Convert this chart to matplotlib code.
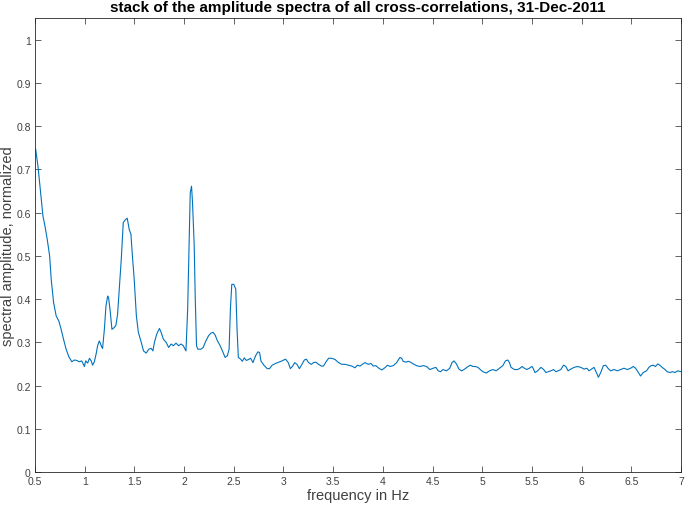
import matplotlib
matplotlib.use('Agg')
import matplotlib.pyplot as plt
from matplotlib.ticker import FuncFormatter, MultipleLocator

# stacked amplitude spectrum
freq = [
    0.507, 0.53, 0.553, 0.58, 0.60, 0.623, 0.647, 0.663, 0.687, 0.713, 0.74, 0.763, 0.787,
    0.813, 0.84, 0.87, 0.897, 0.92, 0.947, 0.97, 0.997, 1.01, 1.03, 1.048, 1.065, 1.08,
    1.097, 1.114, 1.131, 1.147, 1.157, 1.171, 1.18, 1.198, 1.214, 1.231, 1.24, 1.258,
    1.274, 1.297, 1.314, 1.331, 1.348, 1.368, 1.388, 1.408, 1.428, 1.448, 1.465, 1.48,
    1.498, 1.52, 1.54, 1.569, 1.592, 1.619, 1.645, 1.669, 1.686, 1.702, 1.725, 1.752,
    1.769, 1.792, 1.819, 1.845, 1.869, 1.892, 1.919, 1.945, 1.969, 1.992, 2.019, 2.036,
    2.052, 2.062, 2.075, 2.085, 2.102, 2.112, 2.125, 2.139, 2.169, 2.192, 2.219, 2.246,
    2.269, 2.292, 2.312, 2.336, 2.359, 2.386, 2.413, 2.436, 2.453, 2.466, 2.48, 2.5,
    2.52, 2.533, 2.546, 2.569, 2.586, 2.606, 2.626, 2.646, 2.67, 2.693, 2.72, 2.743,
    2.76, 2.773, 2.803, 2.837, 2.86, 2.886, 2.92, 2.953, 2.986, 3.02, 3.046, 3.07,
    3.093, 3.113, 3.136, 3.16, 3.186, 3.21, 3.23, 3.253, 3.28, 3.303, 3.326, 3.353,
    3.38, 3.403, 3.426, 3.454, 3.487, 3.52, 3.554, 3.587, 3.62, 3.654, 3.687, 3.72,
    3.744, 3.77, 3.794, 3.82, 3.854, 3.88, 3.904, 3.93, 3.954, 3.988, 4.02, 4.047,
    4.072, 4.105, 4.139, 4.172, 4.189, 4.205, 4.232, 4.256, 4.28, 4.306, 4.339, 4.373,
    4.406, 4.44, 4.473, 4.506, 4.533, 4.557, 4.58, 4.606, 4.64, 4.673, 4.696, 4.716,
    4.74, 4.766, 4.793, 4.823, 4.857, 4.88, 4.907, 4.93, 4.957, 4.98, 5.007, 5.04,
    5.074, 5.107, 5.14, 5.174, 5.207, 5.234, 5.257, 5.274, 5.29, 5.324, 5.357, 5.38,
    5.401, 5.424, 5.448, 5.474, 5.5, 5.508, 5.531, 5.558, 5.591, 5.618, 5.641, 5.664,
    5.691, 5.718, 5.741, 5.764, 5.791, 5.818, 5.841, 5.864, 5.891, 5.925, 5.958, 5.992,
    6.025, 6.052, 6.075, 6.099, 6.125, 6.149, 6.169, 6.192, 6.219, 6.242, 6.265, 6.292,
    6.326, 6.359, 6.392, 6.426, 6.459, 6.493, 6.52, 6.543, 6.566, 6.593, 6.62, 6.653,
    6.677, 6.7, 6.72, 6.743, 6.767, 6.787, 6.81, 6.834, 6.861, 6.887, 6.914, 6.941,
    6.967, 7.0,
]
amp = [
    0.746, 0.707, 0.654, 0.592, 0.569, 0.538, 0.500, 0.446, 0.392, 0.361, 0.349, 0.330, 0.307,
    0.284, 0.267, 0.255, 0.259, 0.258, 0.255, 0.257, 0.244, 0.257, 0.252, 0.263, 0.257, 0.247,
    0.255, 0.272, 0.293, 0.303, 0.298, 0.289, 0.286, 0.330, 0.384, 0.407, 0.404, 0.369,
    0.330, 0.334, 0.339, 0.365, 0.423, 0.492, 0.577, 0.583, 0.587, 0.561, 0.550, 0.500,
    0.446, 0.361, 0.323, 0.300, 0.280, 0.275, 0.284, 0.286, 0.280, 0.300, 0.319, 0.332,
    0.323, 0.307, 0.300, 0.288, 0.296, 0.292, 0.298, 0.292, 0.296, 0.292, 0.280, 0.376,
    0.546, 0.646, 0.661, 0.623, 0.523, 0.407, 0.292, 0.284, 0.284, 0.288, 0.303, 0.315,
    0.321, 0.323, 0.317, 0.303, 0.294, 0.280, 0.265, 0.269, 0.284, 0.376, 0.434, 0.434,
    0.423, 0.330, 0.265, 0.261, 0.256, 0.264, 0.258, 0.260, 0.263, 0.253, 0.269, 0.278,
    0.276, 0.257, 0.247, 0.239, 0.239, 0.247, 0.251, 0.254, 0.257, 0.261, 0.254, 0.239,
    0.245, 0.253, 0.249, 0.239, 0.249, 0.259, 0.261, 0.253, 0.249, 0.253, 0.254, 0.249,
    0.245, 0.245, 0.254, 0.263, 0.263, 0.260, 0.253, 0.249, 0.249, 0.247, 0.245, 0.241,
    0.247, 0.245, 0.249, 0.253, 0.249, 0.251, 0.245, 0.246, 0.241, 0.236, 0.241, 0.247,
    0.244, 0.246, 0.253, 0.265, 0.263, 0.256, 0.254, 0.256, 0.254, 0.250, 0.246, 0.244,
    0.246, 0.244, 0.237, 0.240, 0.242, 0.234, 0.232, 0.237, 0.234, 0.240, 0.253, 0.257,
    0.250, 0.238, 0.234, 0.238, 0.244, 0.247, 0.244, 0.244, 0.242, 0.237, 0.232, 0.229,
    0.234, 0.237, 0.234, 0.240, 0.246, 0.257, 0.259, 0.253, 0.242, 0.237, 0.237, 0.240,
    0.244, 0.240, 0.237, 0.240, 0.244, 0.242, 0.230, 0.234, 0.242, 0.237, 0.230, 0.232,
    0.234, 0.237, 0.232, 0.234, 0.237, 0.247, 0.244, 0.234, 0.238, 0.242, 0.244, 0.242,
    0.238, 0.240, 0.234, 0.238, 0.242, 0.230, 0.219, 0.230, 0.246, 0.247, 0.240, 0.234,
    0.237, 0.234, 0.237, 0.240, 0.237, 0.240, 0.244, 0.240, 0.232, 0.222, 0.230, 0.234,
    0.242, 0.246, 0.247, 0.244, 0.250, 0.247, 0.242, 0.238, 0.232, 0.230, 0.232, 0.230,
    0.234, 0.232,
]

xticks = [0.5, 1, 1.5, 2, 2.5, 3, 3.5, 4, 4.5, 5, 5.5, 6, 6.5, 7]

plt.rcParams['font.family'] = ['Liberation Sans', 'DejaVu Sans']

fig = plt.figure(figsize=(6.85, 5.1), dpi=100)
ax = fig.add_axes([35/685, 37/510, 646/685, 454/510])

ax.plot(freq, amp, color='#0072BD', linewidth=0.8)

ax.set_xlim(0.5, 7)
ax.set_ylim(0, 1.05)
ax.set_xticks(xticks)
ax.yaxis.set_major_locator(MultipleLocator(0.1))
fmt = FuncFormatter(lambda v, p: f'{v:g}')
ax.xaxis.set_major_formatter(fmt)
ax.yaxis.set_major_formatter(fmt)
ax.tick_params(direction='in', top=True, right=True, length=4, width=0.5,
               labelsize=7.5, colors='#262626', labelcolor='#404040', pad=3)
for s in ax.spines.values():
    s.set_linewidth(0.6)
    s.set_color('#262626')

ax.set_xlabel('frequency in Hz', fontsize=10.5, color='#404040', labelpad=1)
ax.set_ylabel('spectral amplitude, normalized', fontsize=10.5, color='#404040', labelpad=1)
ax.set_title('stack of the amplitude spectra of all cross-correlations, 31-Dec-2011',
             fontsize=11, fontweight='bold', pad=5)

fig.savefig('out.png', dpi=100, facecolor='white')
